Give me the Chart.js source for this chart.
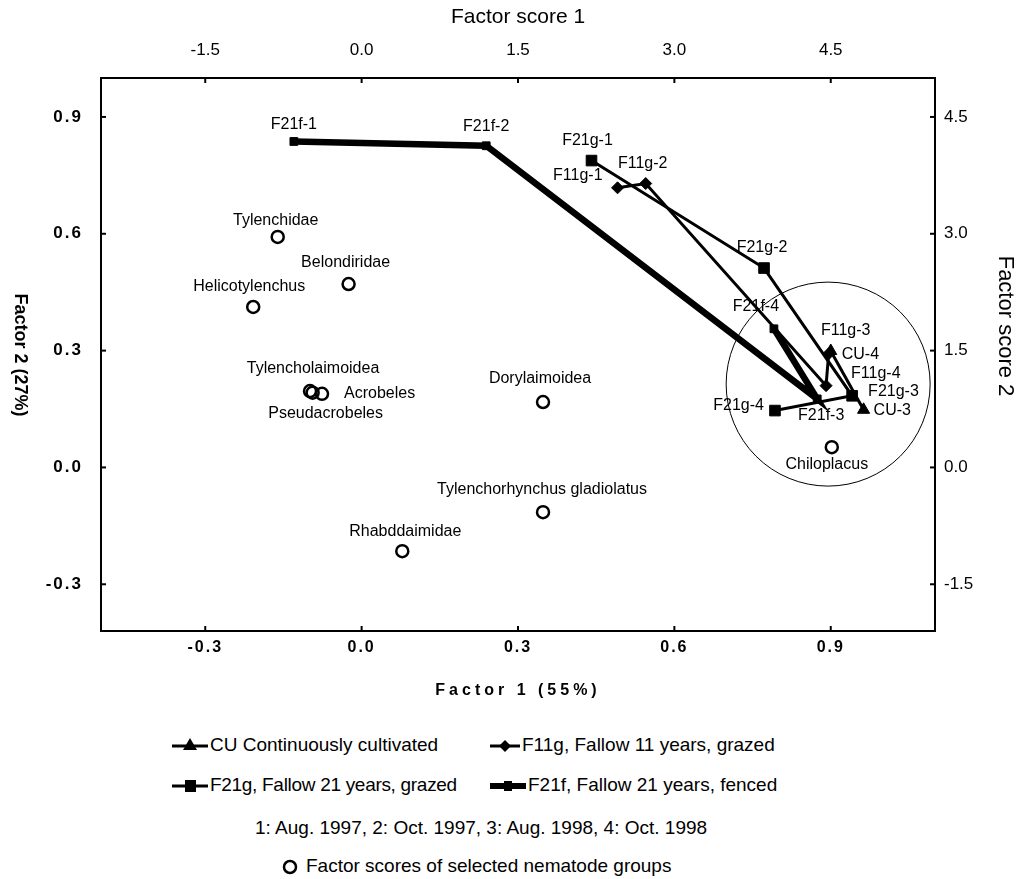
<!DOCTYPE html>
<html><head><meta charset="utf-8">
<script src="https://cdn.jsdelivr.net/npm/chart.js@4/dist/chart.umd.min.js"></script>
<style>
html,body{margin:0;padding:0;background:#fff;}
#wrap{position:relative;width:1018px;height:879px;overflow:hidden;}
#c{position:absolute;left:0;top:0;}
.leg{position:absolute;font-family:'Liberation Sans',Arial,sans-serif;font-size:19px;color:#000;white-space:nowrap;display:flex;align-items:center;line-height:22px;}
.leg svg{margin-right:2px;}
</style></head><body>
<div id="wrap">
<canvas id="c" width="1018" height="720"></canvas>
<div class="leg" style="left:172px;top:734px"><svg width="36" height="20"><line x1="0" y1="11" x2="36" y2="11" stroke="#000" stroke-width="3"/><polygon points="18,3 25,15 11,15" fill="#000"/></svg>CU Continuously cultivated</div>
<div class="leg" style="left:490px;top:734px"><svg width="30" height="20"><line x1="0" y1="11" x2="30" y2="11" stroke="#000" stroke-width="3"/><polygon points="15,5 21,11 15,17 9,11" fill="#000"/></svg>F11g, Fallow 11 years, grazed</div>
<div class="leg" style="left:172px;top:774px;letter-spacing:-0.3px"><svg width="36" height="20"><line x1="0" y1="11" x2="36" y2="11" stroke="#000" stroke-width="3"/><rect x="13" y="5" width="11" height="12" fill="#000"/></svg>F21g, Fallow 21 years, grazed</div>
<div class="leg" style="left:490px;top:774px"><svg width="36" height="20"><line x1="0" y1="11" x2="36" y2="11" stroke="#000" stroke-width="6"/><rect x="14" y="6" width="8" height="10" fill="#000"/></svg>F21f, Fallow 21 years, fenced</div>
<div class="leg" style="left:255px;top:817px">1: Aug. 1997, 2: Oct. 1997, 3: Aug. 1998, 4: Oct. 1998</div>
<div class="leg" style="left:280px;top:855px"><svg width="24" height="20"><circle cx="10" cy="11" r="6" fill="none" stroke="#000" stroke-width="2.5"/></svg>Factor scores of selected nematode groups</div>
</div>
<script>
// ---------------- data ----------------
const ticksF1 = [-0.3, 0.0, 0.3, 0.6, 0.9];
const ticksF2 = [-0.3, 0.0, 0.3, 0.6, 0.9];
const ticksScore1 = [-1.5, 0.0, 1.5, 3.0, 4.5];
const ticksScore2 = [-1.5, 0.0, 1.5, 3.0, 4.5];

const cuLabels = ['CU-3', 'CU-4'];
const cuF1 = [0.963, 0.900];
const cuF2 = [0.148, 0.299];

const f11gLabels = ['F11g-1', 'F11g-2', 'F11g-4', 'F11g-3'];
const f11gF1 = [0.491, 0.545, 0.891, 0.896];
const f11gF2 = [0.718, 0.729, 0.210, 0.292];

const f21gLabels = ['F21g-1', 'F21g-2', 'F21g-3', 'F21g-4'];
const f21gF1 = [0.441, 0.772, 0.941, 0.793];
const f21gF2 = [0.788, 0.512, 0.184, 0.146];

const f21fLabels = ['F21f-1', 'F21f-2', 'F21f-3', 'F21f-4'];
const f21fF1 = [-0.130, 0.239, 0.874, 0.791];
const f21fF2 = [0.837, 0.826, 0.176, 0.356];

const nemaLabels = ['Tylenchidae', 'Belondiridae', 'Helicotylenchus', 'Tylencholaimoidea', 'Pseudacrobeles', 'Acrobeles',
  'Dorylaimoidea', 'Tylenchorhynchus gladiolatus', 'Rhabddaimidae', 'Chiloplacus'];
const nemaF1 = [-0.161, -0.025, -0.208, -0.099, -0.094, -0.076, 0.348, 0.348, 0.078, 0.902];
const nemaF2 = [0.592, 0.471, 0.412, 0.196, 0.192, 0.189, 0.168, -0.115, -0.215, 0.052];

const clusterF1 = [0.895];
const clusterF2 = [0.214];

// ---------------- layout / style ----------------
const W = 1018, H = 720;
const FONT = "'Liberation Sans', Arial, sans-serif";
const NARROW = "'Liberation Sans Narrow', 'Arial Narrow', 'Liberation Sans', sans-serif";
const AREA = {left: 101, right: 935, top: 78, bottom: 631};
const labelPos = {
  'F21f-1': [0, -17, 'center'], 'F21f-2': [0, -19, 'center'], 'F21f-3': [4, 17, 'center'], 'F21f-4': [-18, -22, 'center'],
  'F21g-1': [-4, -20, 'center'], 'F21g-2': [-2, -20, 'center'], 'F21g-3': [16, -4, 'left'], 'F21g-4': [-11, -5, 'right'],
  'F11g-1': [-15, -12, 'right'], 'F11g-2': [-3, -20, 'center'], 'F11g-3': [17, -23, 'center'], 'F11g-4': [25, -12, 'left'],
  'CU-3': [10, 1, 'left'], 'CU-4': [11, 4, 'left'],
  'Tylenchidae': [-2, -16, 'center'], 'Belondiridae': [-3, -21, 'center'], 'Helicotylenchus': [-4, -20, 'center'],
  'Tylencholaimoidea': [3, -23, 'center'], 'Acrobeles': [22, 0, 'left'], 'Pseudacrobeles': [13, 21, 'center'],
  'Dorylaimoidea': [-3, -23, 'center'], 'Tylenchorhynchus gladiolatus': [-1, -23, 'center'],
  'Rhabddaimidae': [3, -20, 'center'], 'Chiloplacus': [-5, 17, 'center']
};

const pts = (xs, ys) => xs.map((x, i) => ({x: x, y: ys[i]}));
const fmt = v => (Math.abs(v) < 1e-9 ? 0 : v).toFixed(1);

const lineDs = (label, labels, xs, ys, style, lw, r, pw) => ({
  label: label, ptLabels: labels, data: pts(xs, ys), showLine: true,
  borderColor: '#000', backgroundColor: '#000', borderWidth: lw,
  pointStyle: style, pointRadius: r, pointBorderWidth: pw, pointBackgroundColor: '#000', pointBorderColor: '#000'
});

const datasets = [
  lineDs('CU', cuLabels, cuF1, cuF2, 'triangle', 3, 7, 1),
  lineDs('F11g', f11gLabels, f11gF1, f11gF2, 'rectRot', 3, 6, 1),
  lineDs('F21g', f21gLabels, f21gF1, f21gF2, 'rect', 3, 7.5, 1),
  lineDs('F21f', f21fLabels, f21fF1, f21fF2, 'rect', 6.5, 5.5, 1),
  {label: 'Nematodes', ptLabels: nemaLabels, data: pts(nemaF1, nemaF2), showLine: false,
    pointStyle: 'circle', pointRadius: 6, pointBorderWidth: 2.5, pointBorderColor: '#000', pointBackgroundColor: 'rgba(255,255,255,0)'},
  {label: 'Cluster', data: pts(clusterF1, clusterF2), showLine: false,
    pointStyle: 'circle', pointRadius: 102, pointBorderWidth: 1, pointBorderColor: '#000', pointBackgroundColor: 'rgba(255,255,255,0)'}
];

const setTicks = arr => s => { s.ticks = arr.map(v => ({value: v})); };

const pointLabels = {
  id: 'pointLabels',
  afterDatasetsDraw(chart) {
    const ctx = chart.ctx;
    ctx.save();
    ctx.font = '16px ' + FONT;
    ctx.fillStyle = '#000';
    ctx.textBaseline = 'middle';
    chart.data.datasets.forEach((ds, di) => {
      if (!ds.ptLabels) return;
      const meta = chart.getDatasetMeta(di);
      meta.data.forEach((el, i) => {
        const name = ds.ptLabels[i];
        const p = labelPos[name] || [0, -18, 'center'];
        ctx.textAlign = p[2];
        ctx.fillText(name, el.x + p[0], el.y + p[1]);
      });
    });
    ctx.restore();
  }
};

const innerTicks = {
  id: 'innerTicks',
  afterDraw(chart) {
    const ctx = chart.ctx, a = chart.chartArea;
    ctx.save(); ctx.strokeStyle = '#000'; ctx.lineWidth = 2;
    const L = 5;
    ['x', 'x2'].forEach(id => {
      const s = chart.scales[id];
      s.ticks.forEach(t => {
        const px = s.getPixelForValue(t.value);
        ctx.beginPath();
        if (id === 'x') { ctx.moveTo(px, a.bottom); ctx.lineTo(px, a.bottom - L); }
        else { ctx.moveTo(px, a.top); ctx.lineTo(px, a.top + L); }
        ctx.stroke();
      });
    });
    ['y', 'y2'].forEach(id => {
      const s = chart.scales[id];
      s.ticks.forEach(t => {
        const py = s.getPixelForValue(t.value);
        ctx.beginPath();
        if (id === 'y') { ctx.moveTo(a.left, py); ctx.lineTo(a.left + L, py); }
        else { ctx.moveTo(a.right, py); ctx.lineTo(a.right - L, py); }
        ctx.stroke();
      });
    });
    ctx.restore();
  }
};

function vTitle(scale, cx, cy) {
  const o = scale.options.title, ctx = scale.ctx;
  ctx.save();
  ctx.translate(cx, cy); ctx.rotate(Math.PI / 2);
  ctx.font = (o.font.weight || 'normal') + ' ' + o.font.size + 'px ' + o.font.family;
  ctx.fillStyle = o.color; ctx.textAlign = 'center'; ctx.textBaseline = 'middle';
  ctx.fillText(o.text, 0, 0);
  ctx.restore();
}

const patcher = {
  id: 'patcher',
  beforeDraw(chart) {
    if (chart.$patched) return;
    chart.$patched = true;
    const sx = chart.scales.x, sy = chart.scales.y, sy2 = chart.scales.y2;
    [sx, sy].forEach(s => {
      const dl = s.drawLabels.bind(s);
      s.drawLabels = function (ca) { const c = this.ctx; c.save(); c.letterSpacing = '2px'; dl(ca); c.restore(); };
    });
    const dt = sx.drawTitle.bind(sx);
    sx.drawTitle = function () { const c = this.ctx; c.save(); c.letterSpacing = '4px'; dt(); c.restore(); };
    sy.drawTitle = function () { vTitle(this, 20, 355); };
    sy2.drawTitle = function () { vTitle(this, 1005, 326); };
  }
};

new Chart(document.getElementById('c'), {
  type: 'scatter',
  data: {datasets: datasets},
  options: {
    responsive: false, animation: false,
    layout: {padding: 0, autoPadding: false},
    plugins: {legend: {display: false}, tooltip: {enabled: false}},
    scales: {
      x: {type: 'linear', position: 'bottom', min: -0.5, max: 1.1,
        afterBuildTicks: setTicks(ticksF1), afterFit: s => { s.height = H - AREA.bottom; },
        ticks: {autoSkip: false, maxRotation: 0, color: '#000', padding: 7, font: {family: FONT, size: 16, weight: 'bold'}, callback: v => fmt(v)},
        grid: {display: false, drawTicks: false}, border: {display: true, color: '#000', width: 2},
        title: {display: true, text: 'Factor 1 (55%)', color: '#000', font: {family: FONT, size: 16, weight: 'bold'}, padding: {top: 0, bottom: 20}}},
      x2: {type: 'linear', position: 'top', min: -2.5, max: 5.5,
        afterBuildTicks: setTicks(ticksScore1), afterFit: s => { s.height = AREA.top; },
        ticks: {autoSkip: false, maxRotation: 0, color: '#000', padding: 17, font: {family: NARROW, size: 17}, callback: v => fmt(v)},
        grid: {display: false, drawTicks: false}, border: {display: true, color: '#000', width: 2},
        title: {display: true, text: 'Factor score 1', color: '#000', font: {family: NARROW, size: 21}, padding: {top: 5, bottom: 0}}},
      y: {type: 'linear', position: 'left', min: -0.42, max: 1.0,
        afterBuildTicks: setTicks(ticksF2), afterFit: s => { s.width = AREA.left; },
        ticks: {autoSkip: false, color: '#000', padding: 18, font: {family: FONT, size: 17, weight: 'bold'}, callback: v => fmt(v)},
        grid: {display: false, drawTicks: false}, border: {display: true, color: '#000', width: 2},
        title: {display: true, text: 'Factor 2 (27%)', color: '#000', font: {family: FONT, size: 18, weight: 'bold'}}},
      y2: {type: 'linear', position: 'right', min: -2.1, max: 5.0,
        afterBuildTicks: setTicks(ticksScore2), afterFit: s => { s.width = W - AREA.right; },
        ticks: {autoSkip: false, color: '#000', padding: 9, font: {family: NARROW, size: 17}, callback: v => fmt(v)},
        grid: {display: false, drawTicks: false}, border: {display: true, color: '#000', width: 2},
        title: {display: true, text: 'Factor score 2', color: '#000', font: {family: NARROW, size: 22}}}
    }
  },
  plugins: [patcher, pointLabels, innerTicks]
});
</script>
</body></html>
